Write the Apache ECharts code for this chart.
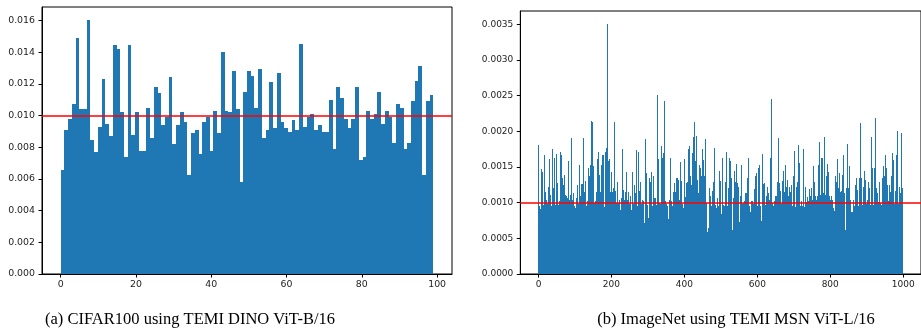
<!DOCTYPE html>
<html>
<head>
<meta charset="utf-8">
<script src="https://cdn.jsdelivr.net/npm/echarts@6/dist/echarts.min.js"></script>
<style>
html,body{margin:0;padding:0;background:#fff;}
#c{width:921px;height:332px;}
</style>
</head>
<body>
<div id="c"></div>
<script>
// ---- Data ----
// (a) CIFAR100: 100 histogram bins over [0, 99]
const cifarValues = [
0.00658,0.00911,0.00980,0.01075,0.01490,0.01043,0.01043,0.01604,0.00847,0.00772,
0.00930,0.01233,0.00949,0.00873,0.01448,0.01423,0.01024,0.00740,0.01448,0.00879,
0.01024,0.00778,0.00778,0.01050,0.00860,0.01180,0.01145,0.00942,0.00993,0.01244,
0.00822,0.00942,0.01024,0.00961,0.00626,0.00892,0.00911,0.00759,0.00961,0.00993,
0.00778,0.01031,0.00892,0.01404,0.01031,0.01024,0.01284,0.01043,0.00578,0.01151,
0.01284,0.01252,0.01050,0.01296,0.00860,0.00911,0.01214,0.00923,0.01271,0.00961,
0.00923,0.00898,0.00974,0.00911,0.01455,0.00930,0.00993,0.01012,0.00911,0.00942,
0.00898,0.00898,0.01100,0.00791,0.01183,0.01113,0.00980,0.00923,0.00980,0.01183,
0.00721,0.00740,0.01031,0.00980,0.01012,0.01151,0.00949,0.01031,0.00993,0.00828,
0.01075,0.01050,0.00791,0.00828,0.01094,0.01221,0.01315,0.00626,0.01094,0.01132
];
// (b) ImageNet: 1000 histogram bins, values in units of 1e-5 (axis labels converted)
const imagenetE5 = [
181,93,96,94,92,91,90,147,98,140, 96,93,143,97,95,167,98,94,92,91,
115,95,97,104,94,98,110,96,122,93, 97,161,95,98,111,94,96,111,97,175,
95,93,120,98,96,162,94,97,168,95, 129,96,98,127,94,97,38,37,103,96,
94,171,97,95,167,98,96,135,94,125, 97,95,139,96,98,111,94,109,97,95,
107,96,94,158,98,95,104,97,111,94, 96,190,95,98,104,94,113,97,95,95,
94,93,87,85,86,107,97,125,95,98, 92,91,90,153,97,109,95,98,126,96,
94,126,97,95,190,98,115,96,94,130, 97,95,89,86,103,98,96,148,95,97,
137,94,98,153,96,214,95,97,213,94, 98,151,96,100,95,97,102,94,98,115,
96,95,161,97,171,94,98,139,96,95, 115,97,153,94,98,167,96,95,167,97,
94,78,77,171,96,98,177,95,97,350, 96,94,158,98,161,95,97,115,96,94,
143,98,115,95,97,120,96,94,213,98, 95,116,97,100,94,96,129,98,95,100,
97,104,94,98,89,88,87,107,94,98, 175,96,118,95,97,104,94,98,115,96,
143,95,97,104,94,98,115,96,95,98, 97,109,94,98,89,87,88,143,94,125,
98,96,125,95,97,113,94,98,89,87, 174,96,94,171,98,95,115,97,116,96,
94,129,98,95,104,97,96,103,94,73, 72,71,189,96,95,141,98,139,94,97,
80,79,78,135,96,95,95,94,129,94, 98,143,96,95,73,72,137,97,94,107,
96,95,107,97,94,251,98,100,96,95, 161,97,94,100,98,96,175,95,180,97,
94,162,98,96,170,95,242,97,94,103, 96,95,98,96,94,78,77,55,54,53,
104,96,95,162,97,103,94,96,75,74, 73,115,96,95,127,97,115,94,98,134,
96,95,135,97,132,94,98,104,96,95, 157,97,94,130,98,95,94,93,89,86,
88,161,95,108,97,94,128,98,96,129, 95,97,175,94,179,98,96,137,95,97,
125,94,170,98,96,192,95,97,213,94, 98,158,96,194,95,97,132,94,98,113,
96,95,153,97,148,94,98,137,96,95, 175,97,160,94,98,137,96,95,189,97,
94,100,60,59,58,57,64,63,62,120, 96,109,95,97,95,94,93,116,98,96,
129,96,177,94,97,95,94,93,87,86, 107,97,96,95,94,93,144,95,97,130,
96,84,83,82,163,94,97,86,85,95, 94,93,129,97,94,171,98,96,89,87,
120,96,94,163,98,95,158,97,134,96, 94,61,60,59,107,97,95,145,96,129,
94,98,154,95,97,127,96,94,122,98, 73,72,71,109,96,95,103,97,153,94,
98,100,96,95,103,97,94,113,98,114, 96,95,135,97,94,156,98,162,96,95,
87,86,85,103,97,96,92,91,103,98, 94,119,96,95,137,97,120,94,98,141,
96,95,148,97,94,141,98,153,96,95, 75,74,73,168,97,112,94,98,126,96,
95,127,97,94,100,98,109,96,95,122, 97,94,113,98,104,96,95,162,97,94,
245,98,96,100,95,95,94,93,103,98, 96,110,95,109,97,94,129,98,96,191,
95,97,128,94,116,98,96,89,87,86, 130,96,144,95,97,115,94,98,153,96,
95,122,97,132,94,98,109,96,95,122, 97,94,115,98,125,96,95,89,86,88,
138,95,172,97,94,88,87,86,122,98, 96,129,95,181,97,94,155,98,96,55,
54,103,96,95,81,80,79,175,97,94, 87,86,122,97,96,101,95,94,108,98,
103,96,95,119,97,94,109,98,96,120, 95,104,97,94,151,98,96,129,95,109,
97,94,104,98,96,110,95,97,153,94, 185,98,96,111,95,97,163,94,163,98,
96,113,95,97,192,94,98,111,96,137, 95,97,154,94,98,143,96,95,109,97,
104,94,98,109,96,95,104,97,92,91, 90,88,87,86,137,97,96,129,98,161,
96,95,120,97,94,141,98,115,96,95, 116,97,94,139,98,96,167,95,113,97,
94,61,60,59,120,96,182,95,97,120, 94,98,151,96,95,104,97,87,86,85,
87,86,85,89,88,104,95,94,125,97, 96,135,95,94,118,98,115,96,95,134,
97,94,84,83,212,96,95,134,97,94, 122,98,96,129,95,145,97,94,132,98,
96,104,95,104,97,94,129,98,96,120, 95,97,192,94,111,98,96,148,95,97,
87,86,148,96,97,219,95,94,120,98, 96,113,95,101,97,94,129,98,96,100,
95,97,100,94,134,98,96,152,95,97, 137,94,167,98,96,148,95,97,125,94,
98,103,96,125,95,97,115,94,98,137, 96,170,95,97,160,94,98,64,63,62,
116,96,167,95,97,200,94,98,89,88, 122,95,94,113,97,96,198,95,98,120
];
const cifarUniform = 0.01;     // 1/100
const imagenetUniformE5 = 100; // 1/1000 in units of 1e-5
const cifarBinWidth = 0.99;    // 100 bins over [0, 99]
const imagenetBinWidth = 1;    // 1000 bins
const cifarXTicks = [0, 20, 40, 60, 80, 100];
const cifarYTicks = [0, 0.002, 0.004, 0.006, 0.008, 0.010, 0.012, 0.014, 0.016];
const imagenetXTicks = [0, 200, 400, 600, 800, 1000];
const imagenetYTicksE5 = [0, 50, 100, 150, 200, 250, 300, 350];
const captionA = '(a) CIFAR100 using TEMI DINO ViT-B/16';
const captionB = '(b) ImageNet using TEMI MSN ViT-L/16';

// ---- Chart ----
const BLUE = '#1f77b4';
const chart = echarts.init(document.getElementById('c'), null, {renderer: 'canvas'});

function barsRender(binW, narrow) {
  return function (params, api) {
    const i = api.value(0), v = api.value(1);
    const p0 = api.coord([i * binW, v]);
    const p1 = api.coord([(i + 1) * binW, 0]);
    let x0, w;
    if (narrow) {
      x0 = Math.floor(p0[0] + 1e-6);
      w = 1;
    } else {
      x0 = Math.round(p0[0]);
      w = Math.round(p1[0]) - x0;
    }
    const y0 = Math.round(p0[1]);
    return {
      type: 'rect',
      shape: {x: x0, y: y0, width: w, height: p1[1] - y0},
      style: {fill: BLUE}
    };
  };
}

const axisFont = {fontFamily: 'DejaVu Sans', color: '#222'};

const option = {
  animation: false,
  backgroundColor: '#fff',
  grid: [
    {left: 42, top: 7, width: 410, height: 267, show: true, borderColor: '#000', borderWidth: 1, backgroundColor: 'transparent'},
    {left: 520.318, top: 11, width: 404.4, height: 263, show: true, borderColor: '#000', borderWidth: 1, backgroundColor: 'transparent'}
  ],
  xAxis: [
    {gridIndex: 0, type: 'value', min: -4.95, max: 103.95,
      splitLine: {show: false},
      axisLine: {onZero: false, lineStyle: {color: '#000', width: 1}},
      axisTick: {customValues: cifarXTicks, length: 3.5, lineStyle: {color: '#000'}},
      axisLabel: Object.assign({customValues: cifarXTicks, fontSize: 9.4, margin: 6,
        formatter: v => String(v)}, axisFont)},
    {gridIndex: 1, type: 'value', min: -49.95, max: 1048.95,
      splitLine: {show: false},
      axisLine: {onZero: false, lineStyle: {color: '#000', width: 1}},
      axisTick: {customValues: imagenetXTicks, length: 3.5, lineStyle: {color: '#000'}},
      axisLabel: Object.assign({customValues: imagenetXTicks, fontSize: 9, margin: 6,
        formatter: v => String(v)}, axisFont)}
  ],
  yAxis: [
    {gridIndex: 0, type: 'value', min: 0, max: 0.01686,
      splitLine: {show: false},
      axisLine: {show: true, onZero: false, lineStyle: {color: '#000', width: 1}},
      axisTick: {customValues: cifarYTicks, length: 3.5, lineStyle: {color: '#000'}},
      axisLabel: Object.assign({customValues: cifarYTicks, fontSize: 9.4, margin: 7,
        formatter: v => v.toFixed(3)}, axisFont)},
    {gridIndex: 1, type: 'value', min: 0, max: 368.6,
      splitLine: {show: false},
      axisLine: {show: true, onZero: false, lineStyle: {color: '#000', width: 1}},
      axisTick: {customValues: imagenetYTicksE5, length: 3.5, lineStyle: {color: '#000'}},
      axisLabel: Object.assign({customValues: imagenetYTicksE5, fontSize: 9, margin: 7,
        formatter: v => (v / 1e5).toFixed(4)}, axisFont)}
  ],
  series: [
    {type: 'custom', xAxisIndex: 0, yAxisIndex: 0, clip: true,
      renderItem: barsRender(cifarBinWidth, false),
      data: cifarValues.map((v, i) => [i, v]),
      markLine: {silent: true, symbol: 'none', animation: false,
        label: {show: false}, lineStyle: {color: '#ff0000', width: 1.5, type: 'solid'},
        data: [{yAxis: cifarUniform}]}},
    {type: 'custom', xAxisIndex: 1, yAxisIndex: 1, clip: true,
      renderItem: barsRender(imagenetBinWidth, true),
      data: imagenetE5.map((v, i) => [i, v]),
      markLine: {silent: true, symbol: 'none', animation: false,
        label: {show: false}, lineStyle: {color: '#ff0000', width: 1.5, type: 'solid'},
        data: [{yAxis: imagenetUniformE5}]}}
  ],
  graphic: [
    {type: 'text', x: 190, y: 320,
      style: {text: captionA, font: '16.5px "Liberation Serif"', fill: '#000', textAlign: 'center', textVerticalAlign: 'middle'}},
    {type: 'text', x: 736, y: 320,
      style: {text: captionB, font: '16.5px "Liberation Serif"', fill: '#000', textAlign: 'center', textVerticalAlign: 'middle'}}
  ]
};
chart.setOption(option);
</script>
</body>
</html>
